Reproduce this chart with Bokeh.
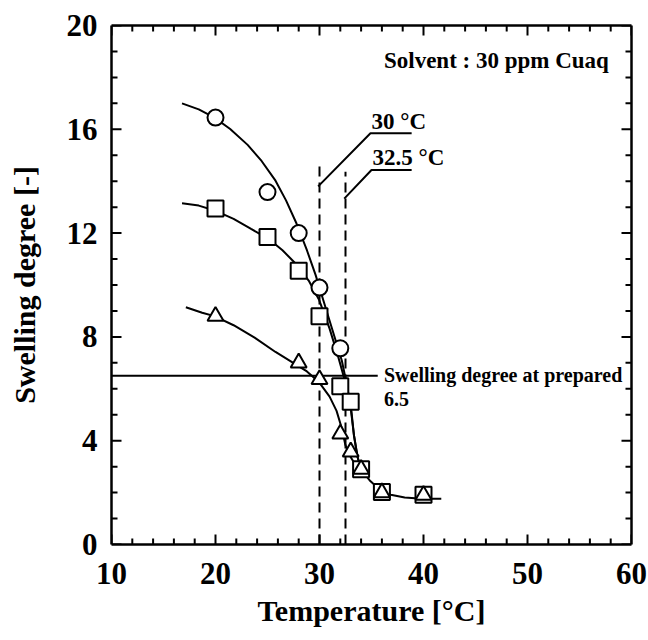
import math
from bokeh.plotting import figure
from bokeh.models import Range1d, LinearAxis, SingleIntervalTicker, CustomJSTickFormatter
from bokeh.embed import file_html
from bokeh.resources import INLINE
from bokeh.core.properties import value

FONT = "Liberation Serif"

# ---- measured points ----
circ_T = [20, 25, 28, 30, 32]
circ_S = [16.45, 13.58, 12.0, 9.9, 7.56]
sq_T = [20, 25, 28, 30, 32, 33, 34, 36, 40]
sq_S = [12.95, 11.85, 10.55, 8.8, 6.1, 5.5, 2.9, 2.02, 1.92]
tri_T = [20, 28, 30, 32, 33, 34, 36, 40]
tri_S = [8.8, 7.0, 6.36, 4.26, 3.57, 2.9, 2.0, 1.9]

# ---- fitted curves ----
circ_curve_T = [16.78, 18.39, 19.9, 21.41, 23.09, 24.43, 25.77, 26.78, 27.79, 28.79,
                29.63, 30.47, 31.31, 32.15, 32.65, 32.99, 33.32, 33.66, 34.0]
circ_curve_S = [17.0, 16.77, 16.45, 16.01, 15.40, 14.78, 14.02, 13.26, 12.37, 11.34,
                10.38, 9.28, 8.18, 7.08, 6.12, 5.29, 4.19, 3.37, 2.89]
sq_curve_T = [16.78, 18.39, 20.07, 21.74, 23.42, 25.1, 26.44, 27.79, 28.96, 29.97,
              30.97, 31.81, 32.48, 32.99, 33.32, 33.66, 34.0]
sq_curve_S = [13.15, 13.06, 12.85, 12.55, 12.16, 11.78, 11.34, 10.79, 10.17, 9.42,
              8.32, 7.22, 6.25, 5.43, 4.19, 3.37, 2.89]
tri_curve_T = [17.15, 18.72, 19.9, 21.74, 23.76, 25.77, 27.28, 28.79, 29.97, 30.97,
               31.64, 32.15, 32.48, 32.89, 33.42, 34.0]
tri_curve_S = [9.14, 8.93, 8.80, 8.45, 7.97, 7.42, 7.05, 6.67, 6.25, 5.70,
               5.15, 4.47, 3.85, 3.44, 3.09, 2.89]
tail_T = [34.0, 34.83, 35.84, 36.85, 38.19, 39.87, 41.71]
tail_S = [2.89, 2.47, 2.10, 1.92, 1.81, 1.76, 1.76]

# reference lines
prepared_S = 6.5
prepared_T = [10, 35.6]
vline_T = [30, 32.5]
vline_top = [14.78, 14.36]
leader30_T = [29.87, 34.9, 38.86]
leader30_S = [13.8, 15.85, 15.85]
leader325_T = [32.38, 35.0, 38.86]
leader325_S = [13.33, 14.43, 14.43]

# tick positions
x_major = [10, 20, 30, 40, 50, 60]
x_minor = [12, 14, 16, 18, 22, 24, 26, 28, 32, 34, 36, 38,
           42, 44, 46, 48, 52, 54, 56, 58]
y_major = [0, 4, 8, 12, 16, 20]
y_minor = [1, 2, 3, 5, 6, 7, 9, 10, 11, 13, 14, 15, 17, 18, 19]
X_MIN, X_MAX, Y_MIN, Y_MAX = 10, 60, 0, 20

p = figure(width=648, height=640, output_backend="svg", toolbar_location=None,
           x_range=Range1d(X_MIN, X_MAX), y_range=Range1d(Y_MIN, Y_MAX),
           min_border_left=111, min_border_right=17, min_border_top=25,
           min_border_bottom=96, x_axis_location=None, y_axis_location=None)
p.grid.visible = False
p.outline_line_color = None
p.background_fill_color = "white"
p.border_fill_color = "white"


def style_axis(ax, labels=True):
    ax.axis_line_width = 2.5
    ax.axis_line_color = "black"
    ax.major_tick_in = 0
    ax.major_tick_out = 0
    ax.minor_tick_in = 0
    ax.minor_tick_out = 0
    ax.major_label_text_font = FONT
    ax.major_label_text_font_style = "bold"
    ax.major_label_text_color = "black"
    ax.axis_label_text_font = FONT
    ax.axis_label_text_font_style = "bold"
    ax.axis_label_text_color = "black"
    if not labels:
        ax.formatter = CustomJSTickFormatter(code="return '';")
        ax.major_label_standoff = 0


xb = LinearAxis(ticker=SingleIntervalTicker(interval=10, num_minor_ticks=5),
                axis_label="Temperature [°C]")
style_axis(xb)
xb.major_label_text_font_size = "31px"
xb.axis_label_text_font_size = "30px"
xb.major_label_standoff = 18
xb.axis_label_standoff = 7
p.add_layout(xb, "below")

xa = LinearAxis(ticker=SingleIntervalTicker(interval=10, num_minor_ticks=5))
style_axis(xa, labels=False)
p.add_layout(xa, "above")

yl = LinearAxis(ticker=SingleIntervalTicker(interval=4, num_minor_ticks=4),
                axis_label="Swelling degree [-]")
style_axis(yl)
yl.major_label_text_font_size = "31px"
yl.axis_label_text_font_size = "30px"
yl.major_label_standoff = 14
yl.axis_label_standoff = 23
p.add_layout(yl, "left")

yr = LinearAxis(ticker=SingleIntervalTicker(interval=4, num_minor_ticks=4))
style_axis(yr, labels=False)
p.add_layout(yr, "right")

# inward ticks on all four sides
TW = 2
for vals, ln in ((x_major, 10), (x_minor, 6)):
    p.ray(x=vals, y=[Y_MIN] * len(vals), length=ln, length_units="screen",
          angle=math.pi / 2, line_color="black", line_width=TW)
    p.ray(x=vals, y=[Y_MAX] * len(vals), length=ln, length_units="screen",
          angle=-math.pi / 2, line_color="black", line_width=TW)
for vals, ln in ((y_major, 10), (y_minor, 6)):
    p.ray(x=[X_MIN] * len(vals), y=vals, length=ln, length_units="screen",
          angle=0, line_color="black", line_width=TW)
    p.ray(x=[X_MAX] * len(vals), y=vals, length=ln, length_units="screen",
          angle=math.pi, line_color="black", line_width=TW)

LW = 2
# curves
p.line(circ_curve_T, circ_curve_S, line_color="black", line_width=LW)
p.line(sq_curve_T, sq_curve_S, line_color="black", line_width=LW)
p.line(tri_curve_T, tri_curve_S, line_color="black", line_width=LW)
p.line(tail_T, tail_S, line_color="black", line_width=LW)

# reference lines
p.line(prepared_T, [prepared_S, prepared_S], line_color="black", line_width=LW)
for t, top in zip(vline_T, vline_top):
    p.line([t, t], [Y_MIN, top], line_color="black", line_width=LW, line_dash="10 6")
p.line(leader30_T, leader30_S, line_color="black", line_width=LW)
p.line(leader325_T, leader325_S, line_color="black", line_width=LW)

# markers
p.scatter(sq_T, sq_S, marker="square", size=16, fill_color="white",
          line_color="black", line_width=2)
p.scatter(circ_T, circ_S, marker="circle", size=16, fill_color="white",
          line_color="black", line_width=2)
p.scatter(tri_T, tri_S, marker="triangle", size=16, fill_color="white",
          line_color="black", line_width=2)


# annotations
def label(x, y, t, size):
    p.text([x], [y], text=[t], text_font=value(FONT), text_font_style="bold",
           text_font_size=size, text_color="black", text_align="left",
           text_baseline="middle")


label(36.2, 18.65, "Solvent : 30 ppm Cuaq", "23px")
label(35.0, 16.3, "30 °C", "23px")
label(35.1, 14.92, "32.5 °C", "23px")
label(36.2, 6.54, "Swelling degree at prepared", "20px")
label(36.2, 5.62, "6.5", "20px")

open("out.html", "w").write(file_html(p, INLINE))
